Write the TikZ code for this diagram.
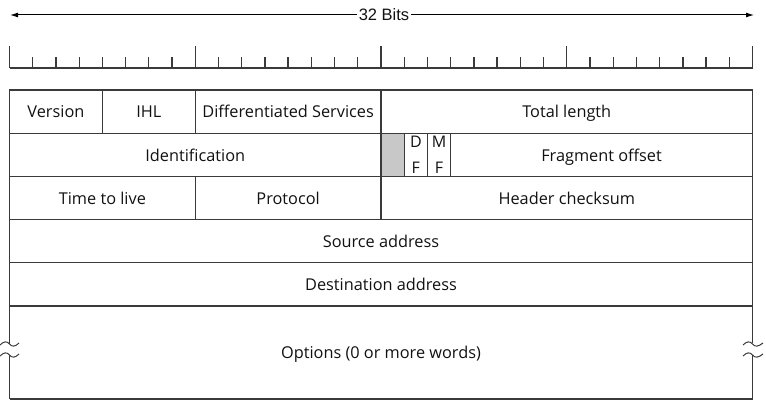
\documentclass[tikz,border=0pt]{standalone}
\usepackage{fontspec}
\setmainfont{Open Sans}
\newfontfamily\arialfont{Liberation Sans}
\usetikzlibrary{arrows.meta}
\definecolor{linec}{HTML}{3A3A3A}
\definecolor{txtc}{HTML}{111111}
\definecolor{grayc}{HTML}{C8C8C8}
\newcommand\cellfont{\fontsize{16.3}{19}\selectfont}
\tikzset{
  cell/.style={draw=linec, line width=1.3pt, inner sep=0pt, outer sep=0pt,
    anchor=north west, font=\cellfont, text=txtc, text depth=0pt},
  rulerline/.style={draw=linec, line width=1.3pt},
  brk/.style={draw=linec, line width=1pt},
  bitsarrow/.style={draw=black, line width=1pt, -{Latex[length=8pt,width=5pt]}},
}
\newcommand\fld[6]{\node[cell, minimum width={(#4-#2)*1pt}, minimum height={(#5-#3)*1pt}] (#1) at (#2,#3) {#6};}
\begin{document}
\begin{tikzpicture}[x=1pt,y=-1pt]
\useasboundingbox (0,0) rectangle (766,406);
% top arrow
\node[font=\arialfont\fontsize{16.5}{18}\selectfont, inner sep=2pt, text=txtc] (bits) at (384,15) {32 Bits};
\coordinate (lend) at (10,15);
\coordinate (rend) at (754,15);
\draw[bitsarrow] (bits.west) -- (lend);
\draw[bitsarrow] (bits.east) -- (rend);
% ruler
\draw[rulerline] (9.5,68) -- (752.54,68);
\foreach \k in {0,...,32}{
  \pgfmathsetmacro\xx{9.5+23.22*\k}
  \pgfmathtruncatemacro\mm{mod(\k,8)}
  \ifnum\mm=0
    \draw[rulerline] (\xx,68) -- (\xx,46);
  \else
    \draw[rulerline] (\xx,68) -- (\xx,57);
  \fi
}
% row 1
\fld{ver}{9.5}{90}{102.38}{133.2}{Version}
\fld{ihl}{102.38}{90}{195.26}{133.2}{IHL}
\fld{ds}{195.26}{90}{381.02}{133.2}{Differentiated Services}
\fld{tl}{381.02}{90}{752.54}{133.2}{Total length}
% row 2
\fld{ident}{9.5}{133.2}{381.02}{176.4}{Identification}
\node[cell, fill=grayc, minimum width={(404.24-381.02)*1pt}, minimum height={43.2pt}] (res) at (381.02,133.2) {};
\node[cell, align=center, font=\fontsize{16}{26}\selectfont, minimum width={(427.46-404.24)*1pt}, minimum height={43.2pt}] (df) at (404.24,133.2) {D\\F};
\node[cell, align=center, font=\fontsize{16}{26}\selectfont, minimum width={(450.68-427.46)*1pt}, minimum height={43.2pt}] (mf) at (427.46,133.2) {M\\F};
\fld{frag}{450.68}{133.2}{752.54}{176.4}{Fragment offset}
% row 3
\fld{ttl}{9.5}{176.4}{195.26}{219.6}{Time to live}
\fld{proto}{195.26}{176.4}{381.02}{219.6}{Protocol}
\fld{hcs}{381.02}{176.4}{752.54}{219.6}{Header checksum}
% row 4, 5
\fld{src}{9.5}{219.6}{752.54}{262.8}{Source address}
\fld{dst}{9.5}{262.8}{752.54}{306}{Destination address}
% options
\node[font=\cellfont, text=txtc, text depth=0pt] (opt) at (381.02,352.5) {Options (0 or more words)};
\coordinate (otl) at (9.5,306);
\coordinate (otr) at (752.54,306);
\coordinate (obl) at (9.5,399);
\coordinate (obr) at (752.54,399);
\draw[rulerline] (obl) -- (obr);
\draw[rulerline] (otl) -- (9.5,344);
\draw[rulerline] (9.5,355) -- (obl);
\draw[rulerline] (otr) -- (752.54,343);
\draw[rulerline] (752.54,355) -- (obr);
% break marks
\foreach \yy in {344,355}{
  \draw[brk] (0,\yy+1) .. controls (4,\yy-3) and (7,\yy-3) .. (9.5,\yy) .. controls (12,\yy+3) and (15,\yy+3) .. (19,\yy-1);
  \draw[brk] (743,\yy+1) .. controls (747,\yy-3) and (750,\yy-3) .. (752.54,\yy) .. controls (755,\yy+3) and (758,\yy+3) .. (763,\yy-1);
}
\end{tikzpicture}
\end{document}
